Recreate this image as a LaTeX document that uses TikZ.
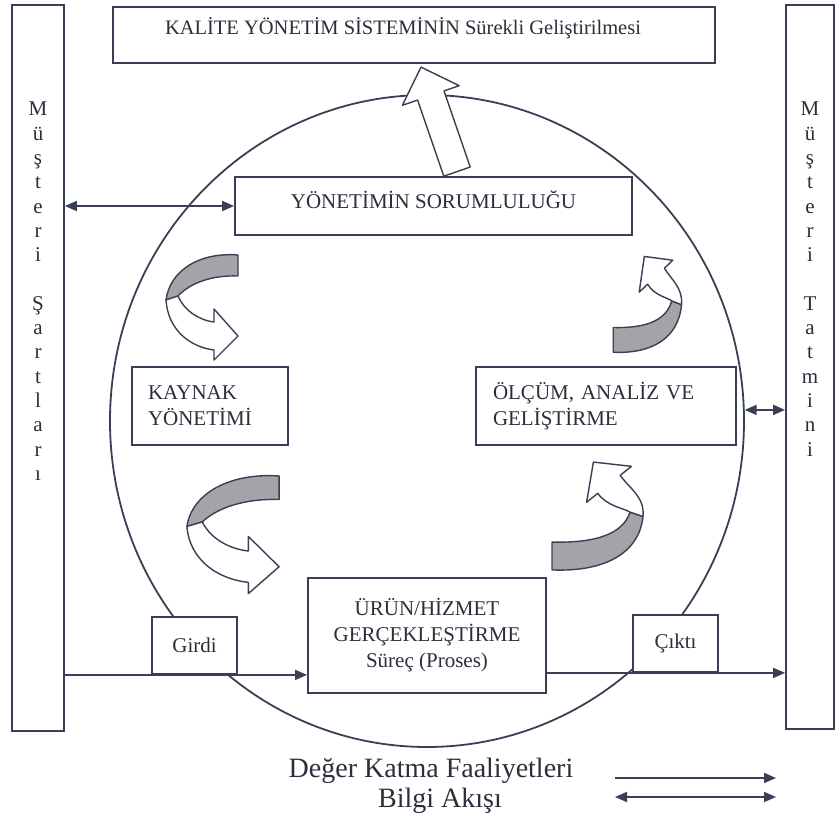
\documentclass[tikz,border=0pt]{standalone}
\usepackage{fontspec}
\setmainfont{Liberation Serif}
\definecolor{qmInk}{HTML}{3A3F55}
\definecolor{qmText}{HTML}{2B2E3B}
\definecolor{qmShade}{HTML}{A3A3A8}
\usetikzlibrary{calc,positioning,arrows.meta,shapes.geometric}

% twisted ribbon arrow, tail up, head down-right, drawn round (0,0)
\newcommand{\loopArrow}{%
  \filldraw[loopline, fill=qmShade] (36,-50) .. controls (-2,-53) and (-32,-35) .. (-36,-5)
    -- (-24,-9) .. controls (-12,-22) and (10,-30) .. (36,-29) -- cycle;
  \filldraw[loopline, fill=white] (-36,-5) .. controls (-34,25) and (-12,42) .. (12,45)
    -- (12,55) -- (36,31) -- (12,4) -- (12,17) .. controls (-4,15) and (-18,5) .. (-24,-9) -- cycle;
}
% twisted ribbon arrow, tail down-left, head up-left, drawn round (0,0)
\newcommand{\loopArrowUp}{%
  \filldraw[loopline, fill=qmShade] (-45,56) .. controls (5,58) and (42,42) .. (46,6)
    -- (33,2) .. controls (26,22) and (0,31) .. (-45,30) -- cycle;
  \filldraw[loopline, fill=white] (46,6) .. controls (48,-12) and (32.2,-20.4) .. (23.2,-32.4)
    -- (34.4,-40.8) -- (-3.6,-44.8) -- (-10.4,-7.2) -- (0.8,-15.6) .. controls (9.8,-3.6) and (26,-2) .. (33,2) -- cycle;
}

\begin{document}
\begin{tikzpicture}[x=1pt, y=-1pt,
  box/.style={draw=qmInk, fill=white, line width=1.8pt, inner sep=0pt, text=qmText},
  boxfont/.style={font=\fontsize{21}{26}\selectfont},
  colfont/.style={font=\fontsize{21}{24.3}\selectfont, text=qmText, align=center, inner sep=0pt},
  flow/.style={draw=qmInk, line width=1.8pt, -{Triangle[length=12pt,width=10pt]}},
  info/.style={draw=qmInk, line width=1.8pt, {Triangle[length=12pt,width=10pt]}-{Triangle[length=12pt,width=10pt]}},
  loopline/.style={draw=qmInk, line width=1.4pt, line join=round}]
  \useasboundingbox (0,0) rectangle (836,818);

  % customer columns
  \node (lbar) [box, minimum width=52pt, minimum height=726pt] at (38,368) {};
  \node (rbar) [box, minimum width=48pt, minimum height=724pt] at (810,367) {};
  \node (lcol) [colfont, anchor=north] at (38,102) {M\\ü\\ş\\t\\e\\r\\i\\[24.3pt]Ş\\a\\r\\t\\l\\a\\r\\ı};
  \node (rcol) [colfont, anchor=north] at (810,102) {M\\ü\\ş\\t\\e\\r\\i\\[24.3pt]T\\a\\t\\m\\i\\n\\i};

  % the improvement cycle
  \node (cycle) [ellipse, draw=qmInk, line width=1.8pt, minimum width=634pt, minimum height=652pt, inner sep=0pt] at (427,421) {};

  % boxes
  \node (kys) [box, minimum width=602pt, minimum height=56pt] at (414,35) {};
  \node (kysText) [text=qmText, font=\fontsize{20.5}{24}\selectfont] at (403,28) {KALİTE YÖNETİM SİSTEMİNİN Sürekli Geliştirilmesi};
  \node (yon) [box, boxfont, minimum width=397pt, minimum height=58pt, text depth=12pt] at (433.5,206) {YÖNETİMİN SORUMLULUĞU};
  \node (kay) [box, boxfont, minimum width=156pt, minimum height=78pt, align=left, text width=124pt] at (210,406) {KAYNAK\\YÖNETİMİ};
  \node (olc) [box, boxfont, minimum width=260pt, minimum height=78pt, align=left, text width=226pt] at (606,406) {ÖLÇÜM, ANALİZ VE\\GELİŞTİRME};
  \node (urun) [box, boxfont, minimum width=238pt, minimum height=115pt, align=center] at (427,635.5) {ÜRÜN/HİZMET\\GERÇEKLEŞTİRME\\Süreç (Proses)};
  \node (girdi) [box, boxfont, minimum width=85pt, minimum height=57pt] at (194.5,645.5) {Girdi};
  \node (cikti) [box, boxfont, minimum width=85pt, minimum height=57pt] at (675.5,643.5) {Çıktı};

  % flows
  \draw[info] (lbar.east |- yon.west) -- (yon.west);
  \draw[info] (cycle.2) -- (cycle.2 -| rbar.west);
  \draw[flow] (lbar.east |- girdi.south) -- (urun.west |- girdi.south);
  \draw[flow] (urun.east |- cikti.south) -- (rbar.west |- cikti.south);

  % upward block arrow
  \coordinate (upB) at ($(yon.north)+(23.5,-4.5)$);
  \begin{scope}[shift={(upB)}]
    \filldraw[loopline, fill=white] (-13.2,4.6) -- (13.2,-4.6) -- (-13,-80.7) -- (2.2,-85.9)
      -- (-36,-104.5) -- (-54.6,-66.3) -- (-39.4,-71.5) -- cycle;
  \end{scope}

  % ribbon arrows
  \begin{scope}[shift={(202,305)}]
    \loopArrow
  \end{scope}
  \begin{scope}[shift={(233,532)}, xscale=1.28, yscale=1.12]
    \loopArrow
  \end{scope}
  \begin{scope}[shift={(647,299)}, xscale=0.75, yscale=0.95]
    \loopArrowUp
  \end{scope}
  \begin{scope}[shift={(597,510)}, yscale=1.07]
    \loopArrowUp
  \end{scope}

  % legend
  \node (vaText) [text=qmText, font=\fontsize{28}{32}\selectfont] at (431,771) {Değer Katma Faaliyetleri};
  \node (biText) [text=qmText, font=\fontsize{28}{32}\selectfont] at (440,801) {Bilgi Akışı};
  \coordinate (vaS) at (615,778);
  \coordinate (vaE) at (776,778);
  \draw[flow] (vaS) -- (vaE);
  \coordinate (biS) at (615,797);
  \coordinate (biE) at (776,797);
  \draw[info] (biS) -- (biE);
\end{tikzpicture}
\end{document}
